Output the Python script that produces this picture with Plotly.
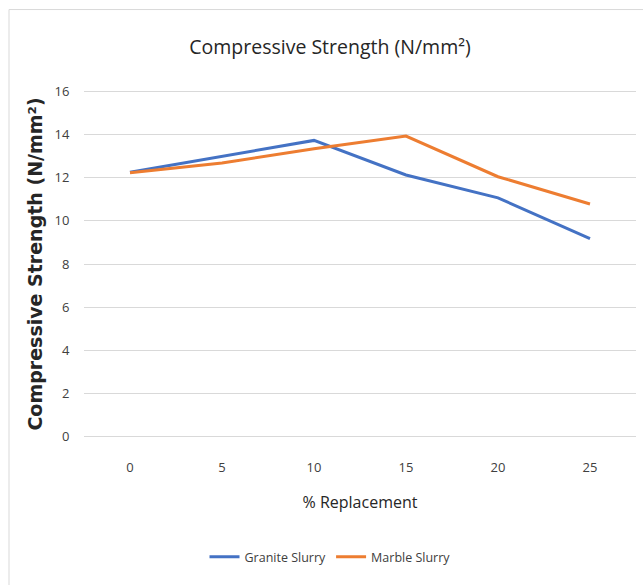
import plotly.graph_objects as go

categories = ["0", "5", "10", "15", "20", "25"]
granite = [12.25, 12.98, 13.72, 12.12, 11.06, 9.18]
marble = [12.22, 12.68, 13.33, 13.92, 12.04, 10.78]
y_ticks = [0, 2, 4, 6, 8, 10, 12, 14, 16]

FONT = "Open Sans, sans-serif"
W, H = 643, 585
PAD = 0.1
L, R = 84, 7
T = 90.7 - PAD * 21.625
B = H - (436.7 + PAD * 21.625)
PW, PH = W - L - R, H - T - B

fig = go.Figure()
fig.add_trace(go.Scatter(x=list(range(len(categories))), y=granite, mode="lines",
                         name="Granite Slurry", line=dict(color="#4472C4", width=3)))
fig.add_trace(go.Scatter(x=list(range(len(categories))), y=marble, mode="lines",
                         name="Marble Slurry", line=dict(color="#ED7D31", width=3)))

top_frac = (H - 9 - B) / PH
left_frac = (9 - L) / PW

fig.update_layout(
    width=W, height=H,
    margin=dict(l=L, r=R, t=T, b=B, autoexpand=False),
    paper_bgcolor="white", plot_bgcolor="white",
    title=dict(text="Compressive Strength (N/mm²)", x=330 / W, xanchor="center",
               yref="container", y=1 - 47 / H, yanchor="middle",
               font=dict(family=FONT, size=19.5, color="#262626")),
    legend=dict(orientation="h", yref="container", xref="paper",
                x=(330 - L) / PW, xanchor="center", y=1 - 557 / H, yanchor="middle",
                font=dict(family=FONT, size=12.5, color="#404040"),
                tracegroupgap=0),
    showlegend=True,
    shapes=[dict(type="line", xref="paper", yref="paper", x0=left_frac, x1=left_frac,
                 y0=-1, y1=top_frac, line=dict(color="#d9d9d9", width=1)),
            dict(type="line", xref="paper", yref="paper", x0=left_frac, x1=2,
                 y0=top_frac, y1=top_frac, line=dict(color="#d9d9d9", width=1))],
)

fig.update_xaxes(
    automargin=False,
    range=[-0.5, 5.5], tickmode="array", tickvals=list(range(len(categories))), ticktext=categories,
    showgrid=False, zeroline=False, showline=False,
    ticks="outside", ticklen=16, tickcolor="rgba(0,0,0,0)",
    tickfont=dict(family=FONT, size=13, color="#404040"),
    title=dict(text="% Replacement", font=dict(family=FONT, size=16, color="#262626"), standoff=22),
)
fig.update_yaxes(
    automargin=False,
    range=[-PAD, 16 + PAD], tickvals=y_ticks,
    showgrid=True, gridcolor="#d9d9d9", gridwidth=1, zeroline=False, showline=False,
    ticks="outside", ticklen=11, tickcolor="rgba(0,0,0,0)",
    tickfont=dict(family=FONT, size=13, color="#404040"),
    title=dict(text="<b>Compressive Strength (N/mm²)</b>",
               font=dict(family="DejaVu Sans, Verdana, sans-serif", size=19, color="#262626"),
               standoff=6),
)

fig.write_html("out.html", config={"displayModeBar": False},
               post_script="document.body.style.margin='0';")
